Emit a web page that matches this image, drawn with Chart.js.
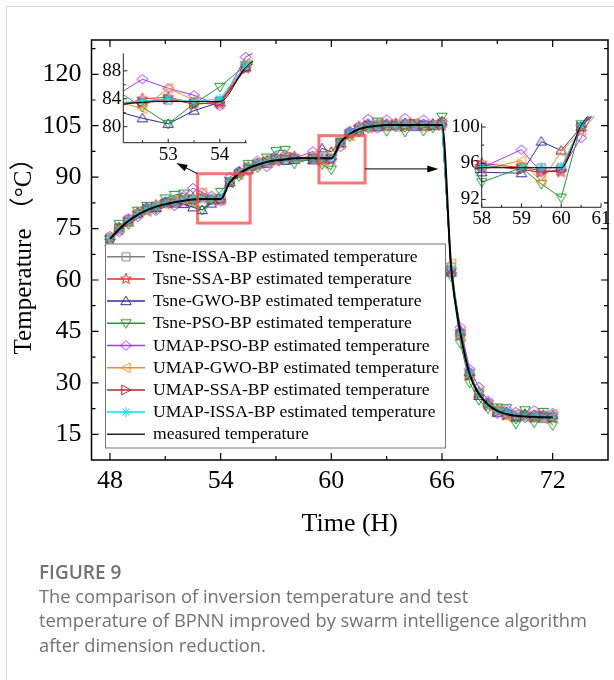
<!DOCTYPE html>
<html>
<head>
<meta charset="utf-8">
<script src="https://cdn.jsdelivr.net/npm/chart.js@4.4.1/dist/chart.umd.min.js"></script>
<style>
  html, body { margin: 0; padding: 0; background: #fff; }
  #page { position: relative; width: 614px; height: 680px; overflow: hidden; }
  #card { position: absolute; left: 6px; top: 6px; width: 700px; height: 700px; border-left: 1px solid #d9d9d9; border-top: 1px solid #d9d9d9; }
  canvas { position: absolute; }
  #main { left: 0; top: 0; }
  #inset1 { left: 60px; top: 40px; }
  #inset2 { left: 420px; top: 110px; }
  #caption { position: absolute; left: 39px; top: 560px; font-family: 'Open Sans', 'Noto Sans', sans-serif; color: #727272; font-size: 18.3px; line-height: 24.2px; }
  #caption .fig { font-weight: 600; font-size: 19px; }
</style>
</head>
<body>
<div id="page">
  <div id="card"></div>
  <canvas id="main" width="614" height="560"></canvas>
  <canvas id="inset1" width="200" height="130"></canvas>
  <canvas id="inset2" width="194" height="125"></canvas>
  <div id="caption"><div class="fig">FIGURE 9</div>The comparison of inversion temperature and test<br>temperature of BPNN improved by swarm intelligence algorithm<br>after dimension reduction.</div>
</div>
<script>
// time axis (hours)
const times = [48, 48.5, 49, 49.5, 50, 50.5, 51, 51.5, 52, 52.5, 53, 53.5, 54, 54.5, 55, 55.5, 56, 56.5, 57, 57.5, 58,
  59, 59.5, 60, 60.5, 61, 61.5, 62, 62.5, 63, 63.5, 64, 64.5, 65, 65.5, 66, 66.5, 67, 67.5, 68, 68.5, 69, 69.5, 70, 70.5, 71, 71.5, 72];

const measured = [72.0, 74.8, 77.2, 79.0, 80.4, 81.4, 82.1, 82.7, 83.1, 83.5, 83.6, 83.6, 83.6, 88.5, 91.0, 92.6, 93.6, 94.4, 94.9, 95.2, 95.5,
  95.5, 95.5, 95.5, 100.2, 102.6, 104.0, 104.7, 105.0, 105.2, 105.2, 105.2, 105.2, 105.2, 105.2, 105.2, 63.5, 44.5, 32.5, 26.8, 23.6, 21.8, 20.9, 20.4, 20.2, 20.1, 20.0, 20.0];

const tsneIssa = [72.3, 75.2, 77.6, 79.3, 80.8, 81.6, 82.5, 82.9, 83.3, 83.5, 83.8, 83.5, 83.7, 88.6, 91.3, 92.4, 93.9, 94.6, 95.2, 95.0, 95.5,
  95.6, 95.5, 95.5, 100.0, 102.9, 104.3, 104.9, 105.3, 105.0, 105.5, 105.1, 105.4, 105.0, 105.3, 105.5, 63.8, 44.2, 32.8, 27.0, 23.9, 22.0, 21.0, 20.7, 20.4, 20.3, 20.2, 20.1];
const tsneSsa = [71.6, 74.5, 77.5, 79.5, 80.1, 81.8, 82.4, 83.0, 82.8, 84.0, 84.2, 83.4, 83.2, 88.3, 90.7, 92.9, 93.4, 94.8, 94.6, 95.6, 96.0,
  95.5, 95.2, 95.0, 100.0, 102.3, 104.4, 104.5, 105.4, 104.9, 105.6, 105.0, 105.3, 104.8, 105.5, 105.0, 63.0, 44.9, 32.0, 27.3, 23.2, 22.3, 20.5, 20.0, 20.6, 19.8, 20.5, 19.7];
const tsneGwo = [71.0, 75.4, 76.8, 79.6, 80.9, 81.0, 82.6, 82.3, 82.2, 81.2, 80.4, 82.3, 83.5, 88.5, 91.5, 92.2, 94.1, 93.9, 95.4, 94.8, 95.0,
  94.9, 98.4, 97.4, 100.0, 103.1, 103.6, 105.3, 104.6, 105.6, 105.0, 105.8, 104.7, 105.5, 104.9, 106.0, 62.2, 45.2, 33.1, 26.2, 24.2, 21.3, 21.5, 19.9, 21.0, 20.7, 19.6, 20.6];
const tsnePso = [70.8, 76.3, 76.2, 80.2, 81.6, 80.7, 83.8, 84.8, 85.2, 82.8, 80.4, 83.3, 85.7, 88.8, 90.2, 93.8, 92.8, 95.7, 97.6, 97.9, 93.9,
  95.5, 93.7, 92.2, 100.3, 101.8, 103.2, 104.2, 106.2, 103.4, 104.9, 103.2, 105.7, 103.5, 104.4, 107.6, 61.0, 41.5, 30.0, 25.0, 22.5, 22.8, 22.6, 18.0, 22.0, 18.4, 21.5, 17.6];
const umapPso = [72.8, 74.0, 78.0, 78.4, 81.2, 80.2, 82.9, 81.6, 84.5, 86.8, 85.5, 84.5, 83.0, 90.0, 91.8, 91.9, 94.8, 93.0, 95.8, 96.5, 95.5,
  97.5, 95.0, 95.3, 98.8, 103.5, 105.0, 107.0, 104.2, 106.8, 104.6, 107.2, 105.0, 106.8, 105.5, 106.4, 62.0, 46.2, 34.0, 28.8, 24.8, 21.0, 22.3, 21.5, 19.8, 22.0, 20.7, 21.2];
const umapGwo = [72.5, 75.0, 76.9, 79.8, 80.0, 81.9, 82.0, 83.2, 83.6, 82.6, 85.5, 83.8, 83.3, 89.0, 91.2, 92.0, 94.2, 94.0, 95.3, 95.9, 95.3,
  96.3, 94.0, 97.3, 99.5, 102.0, 104.6, 104.3, 105.7, 105.3, 104.7, 105.4, 105.8, 104.8, 105.2, 105.8, 64.8, 43.8, 31.8, 27.5, 23.4, 22.0, 20.2, 21.0, 20.0, 20.8, 19.5, 20.9];
const umapSsa = [71.8, 75.1, 77.0, 78.7, 80.6, 81.2, 82.2, 82.5, 83.4, 83.5, 84.0, 83.2, 83.5, 88.3, 90.9, 92.8, 93.3, 94.3, 95.1, 95.4, 95.8,
  95.3, 95.0, 95.2, 100.0, 102.5, 103.8, 105.0, 104.8, 105.4, 105.1, 104.8, 105.6, 105.2, 104.9, 105.4, 62.8, 44.0, 32.3, 26.5, 23.8, 21.5, 20.7, 20.2, 20.5, 20.0, 20.3, 19.9];
const umapIssa = [72.2, 74.6, 77.4, 79.2, 80.5, 81.7, 82.3, 82.8, 83.4, 83.7, 84.0, 83.6, 84.0, 88.8, 91.1, 92.7, 93.7, 94.5, 95.0, 95.3, 95.6,
  95.5, 95.5, 95.6, 100.2, 102.8, 104.2, 104.8, 105.1, 105.3, 105.0, 105.4, 105.1, 105.3, 105.2, 105.1, 63.6, 44.3, 32.6, 27.1, 23.5, 21.9, 21.1, 20.6, 20.3, 20.4, 20.1, 20.2];

const names = ['Tsne-ISSA-BP estimated temperature', 'Tsne-SSA-BP estimated temperature', 'Tsne-GWO-BP estimated temperature',
  'Tsne-PSO-BP estimated temperature', 'UMAP-PSO-BP estimated temperature', 'UMAP-GWO-BP estimated temperature',
  'UMAP-SSA-BP estimated temperature', 'UMAP-ISSA-BP estimated temperature'];
const measuredName = 'measured temperature';
const estimates = [tsneIssa, tsneSsa, tsneGwo, tsnePso, umapPso, umapGwo, umapSsa, umapIssa];

// ticks
const xMajor = [48, 54, 60, 66, 72];
const xMinor = [51, 57, 63, 69];
const yMajor = [15, 30, 45, 60, 75, 90, 105, 120];
const yMinor = [22.5, 37.5, 52.5, 67.5, 82.5, 97.5, 112.5, 127.5];
const inset1X = [53, 54];
const inset1XMinor = [52.5, 53.5, 54.5];
const inset1Y = [80, 84, 88];
const inset1YMinor = [82, 86];
const inset2X = [58, 59, 60, 61];
const inset2XMinor = [58.5, 59.5, 60.5];
const inset2Y = [92, 96, 100];
const inset2YMinor = [94, 98];

// zoom boxes [x0, x1, y0, y1] and arrows [fromX, fromY, toX, toY] in data units
const zoomBoxes = [[52.75, 55.6, 76.6, 91.0], [59.33, 61.83, 88.3, 102.1]];
const arrows = [[52.75, 91.0, 51.6, 94.1], [61.83, 92.4, 65.8, 92.4]];

const colors = ['#808080', '#ff2424', '#2e2e9c', '#1f9a30', '#9b3cff', '#ff8a20', '#a82a2a', '#00e6f5'];
const markerKinds = ['square', 'star', 'triUp', 'triDown', 'diamond', 'triLeft', 'triRight', 'asterisk'];

Chart.defaults.font.family = "'Liberation Serif', 'Times New Roman', serif";
Chart.defaults.color = '#000';

function makeMarker(kind, color) {
  const c = document.createElement('canvas');
  c.width = 14; c.height = 14;
  const g = c.getContext('2d');
  g.strokeStyle = color;
  g.lineWidth = 1;
  g.translate(7, 7);
  g.beginPath();
  if (kind === 'square') {
    g.rect(-4, -4, 8, 8);
  } else if (kind === 'triUp') {
    g.moveTo(0, -5); g.lineTo(5.2, 3.6); g.lineTo(-5.2, 3.6); g.closePath();
  } else if (kind === 'triDown') {
    g.moveTo(0, 5); g.lineTo(5.2, -3.6); g.lineTo(-5.2, -3.6); g.closePath();
  } else if (kind === 'triLeft') {
    g.moveTo(-5, 0); g.lineTo(4.2, -4.8); g.lineTo(4.2, 4.8); g.closePath();
  } else if (kind === 'triRight') {
    g.moveTo(5, 0); g.lineTo(-4.2, -4.8); g.lineTo(-4.2, 4.8); g.closePath();
  } else if (kind === 'diamond') {
    g.moveTo(0, -4.6); g.lineTo(5.6, 0); g.lineTo(0, 4.6); g.lineTo(-5.6, 0); g.closePath();
  } else if (kind === 'star') {
    for (let k = 0; k < 10; k++) {
      const r = k % 2 === 0 ? 5.6 : 2.4;
      const a = -Math.PI / 2 + k * Math.PI / 5;
      if (k === 0) g.moveTo(r * Math.cos(a), r * Math.sin(a));
      else g.lineTo(r * Math.cos(a), r * Math.sin(a));
    }
    g.closePath();
  } else if (kind === 'asterisk') {
    for (let k = 0; k < 4; k++) {
      const a = k * Math.PI / 4;
      g.moveTo(-5 * Math.cos(a), -5 * Math.sin(a));
      g.lineTo(5 * Math.cos(a), 5 * Math.sin(a));
    }
  }
  g.stroke();
  return c;
}

const markerImgs = markerKinds.map((k, i) => makeMarker(k, colors[i]));

function buildDatasets(measuredWidth, clip) {
  const ds = estimates.map((vals, i) => ({
    label: names[i],
    data: times.map((t, k) => ({ x: t, y: vals[k] })),
    borderColor: colors[i],
    borderWidth: 1,
    pointStyle: markerImgs[i],
    pointRadius: 5,
    tension: 0,
    clip: clip,
    order: estimates.length - i
  }));
  ds.push({
    label: measuredName,
    data: times.map((t, k) => ({ x: t, y: measured[k] })),
    borderColor: '#000',
    borderWidth: measuredWidth,
    pointRadius: 0,
    cubicInterpolationMode: 'monotone',
    clip: clip,
    order: 0
  });
  return ds;
}

function tickLines(ctx, scale, vals, len, area, horiz, both) {
  vals.forEach(v => {
    const p = scale.getPixelForValue(v);
    if (horiz) {
      ctx.moveTo(p, area.bottom); ctx.lineTo(p, area.bottom - len);
      if (both) { ctx.moveTo(p, area.top); ctx.lineTo(p, area.top + len); }
    } else {
      ctx.moveTo(area.left, p); ctx.lineTo(area.left + len, p);
      if (both) { ctx.moveTo(area.right, p); ctx.lineTo(area.right - len, p); }
    }
  });
}

const mainFrame = {
  id: 'mainFrame',
  afterDatasetsDraw(chart) {
    const { ctx, scales: { x, y } } = chart;
    ctx.save();
    ctx.strokeStyle = 'rgba(255, 70, 70, 0.75)';
    ctx.lineWidth = 3;
    zoomBoxes.forEach(b => {
      const x0 = x.getPixelForValue(b[0]), x1 = x.getPixelForValue(b[1]);
      const y0 = y.getPixelForValue(b[2]), y1 = y.getPixelForValue(b[3]);
      ctx.strokeRect(x0, y1, x1 - x0, y0 - y1);
    });
    ctx.strokeStyle = '#000';
    ctx.fillStyle = '#000';
    ctx.lineWidth = 1;
    arrows.forEach(a => {
      const fx = x.getPixelForValue(a[0]), fy = y.getPixelForValue(a[1]);
      const tx = x.getPixelForValue(a[2]), ty = y.getPixelForValue(a[3]);
      const ang = Math.atan2(ty - fy, tx - fx);
      ctx.beginPath();
      ctx.moveTo(fx, fy);
      ctx.lineTo(tx - 9 * Math.cos(ang), ty - 9 * Math.sin(ang));
      ctx.stroke();
      ctx.beginPath();
      ctx.moveTo(tx, ty);
      ctx.lineTo(tx - 11 * Math.cos(ang) + 3.5 * Math.sin(ang), ty - 11 * Math.sin(ang) - 3.5 * Math.cos(ang));
      ctx.lineTo(tx - 11 * Math.cos(ang) - 3.5 * Math.sin(ang), ty - 11 * Math.sin(ang) + 3.5 * Math.cos(ang));
      ctx.closePath();
      ctx.fill();
    });
    ctx.restore();
  },
  afterDraw(chart) {
    const { ctx, chartArea: a, scales: { x, y } } = chart;
    ctx.save();
    ctx.strokeStyle = '#000';
    ctx.lineWidth = 1.5;
    ctx.strokeRect(a.left, a.top, a.right - a.left, a.bottom - a.top);
    ctx.lineWidth = 1.2;
    ctx.beginPath();
    tickLines(ctx, x, xMajor, 7, a, true, true);
    tickLines(ctx, x, xMinor, 4, a, true, true);
    tickLines(ctx, y, yMajor, 7, a, false, true);
    tickLines(ctx, y, yMinor, 4, a, false, true);
    ctx.stroke();

    // legend box
    const left = a.left + 13.5, top = 243.5, w = 340, h = 204, rowGap = 22.2;
    ctx.fillStyle = '#fff';
    ctx.fillRect(left, top, w, h);
    ctx.strokeStyle = '#777';
    ctx.lineWidth = 1;
    ctx.strokeRect(left + 0.5, top + 0.5, w, h);
    ctx.font = "17.6px 'Liberation Serif'";
    ctx.textBaseline = 'middle';
    ctx.textAlign = 'left';
    const rows = names.concat([measuredName]);
    rows.forEach((name, i) => {
      const cy = top + 13.2 + i * rowGap;
      ctx.beginPath();
      ctx.strokeStyle = i < names.length ? colors[i] : '#222';
      ctx.lineWidth = 1.5;
      ctx.moveTo(left + 2, cy);
      ctx.lineTo(left + 40, cy);
      ctx.stroke();
      if (i < names.length) ctx.drawImage(markerImgs[i], left + 21 - 7, cy - 7);
      ctx.fillStyle = '#000';
      ctx.fillText(name, left + 48, cy + 0.5);
    });
    ctx.restore();
  }
};

new Chart(document.getElementById('main'), {
  type: 'line',
  data: { datasets: buildDatasets(2, 0) },
  options: {
    responsive: false,
    animation: false,
    events: [],
    layout: { padding: { left: 0, right: 2, top: 40, bottom: 0 } },
    plugins: { legend: { display: false }, tooltip: { enabled: false } },
    scales: {
      x: {
        type: 'linear', min: 47, max: 75,
        grid: { display: false, drawTicks: false },
        border: { display: false },
        afterBuildTicks: s => { s.ticks = xMajor.map(v => ({ value: v })); },
        afterFit: s => { s.height = 100; },
        ticks: { font: { size: 26 }, padding: 6, color: '#000', maxRotation: 0, autoSkip: false },
        title: { display: true, text: 'Time (H)', font: { size: 26 }, color: '#000', padding: { top: 0, bottom: 20 } }
      },
      y: {
        type: 'linear', min: 7.5, max: 130,
        grid: { display: false, drawTicks: false },
        border: { display: false },
        afterBuildTicks: s => { s.ticks = yMajor.map(v => ({ value: v })); },
        afterFit: s => { s.width = 91.5; },
        ticks: { font: { size: 26 }, padding: 10, color: '#000', autoSkip: false },
        title: {
          display: true, text: 'Temperature （°C）', color: '#000',
          font: { size: 25, family: "'Liberation Serif', 'Noto Sans CJK SC', serif" },
          padding: { top: 9, bottom: 0 }
        }
      }
    }
  },
  plugins: [mainFrame]
});

function insetAxes(xMaj, xMin, yMaj, yMin) {
  return {
    id: 'insetAxes',
    afterDraw(chart) {
      const { ctx, chartArea: a, scales: { x, y } } = chart;
      ctx.save();
      ctx.strokeStyle = '#222';
      ctx.lineWidth = 1;
      ctx.beginPath();
      ctx.moveTo(a.left, a.top);
      ctx.lineTo(a.left, a.bottom);
      ctx.lineTo(a.right, a.bottom);
      tickLines(ctx, x, xMaj, 4, a, true, false);
      tickLines(ctx, x, xMin, 2.5, a, true, false);
      tickLines(ctx, y, yMaj, 4, a, false, false);
      tickLines(ctx, y, yMin, 2.5, a, false, false);
      ctx.stroke();
      ctx.restore();
    }
  };
}

function makeInset(id, xr, yr, xTicks, yTicks, xMin, yMin, pad, yWidth, xHeight, xPad, clip) {
  return new Chart(document.getElementById(id), {
    type: 'line',
    data: { datasets: buildDatasets(1, clip) },
    options: {
      responsive: false,
      animation: false,
      events: [],
      layout: { padding: pad },
      plugins: { legend: { display: false }, tooltip: { enabled: false } },
      scales: {
        x: {
          type: 'linear', min: xr[0], max: xr[1],
          grid: { display: false, drawTicks: false },
          border: { display: false },
          afterBuildTicks: s => { s.ticks = xTicks.map(v => ({ value: v })); },
          afterFit: s => { s.height = xHeight; },
          ticks: { font: { size: 19 }, padding: xPad, color: '#000', maxRotation: 0, autoSkip: false }
        },
        y: {
          type: 'linear', min: yr[0], max: yr[1],
          grid: { display: false, drawTicks: false },
          border: { display: false },
          afterBuildTicks: s => { s.ticks = yTicks.map(v => ({ value: v })); },
          afterFit: s => { s.width = yWidth; },
          ticks: { font: { size: 19 }, padding: 2, color: '#000', autoSkip: false }
        }
      }
    },
    plugins: [insetAxes(xTicks, xMin, yTicks, yMin)]
  });
}

makeInset('inset1', [52.13, 54.52], [77.7, 90.5], inset1X, inset1Y, inset1XMinor, inset1YMinor,
  { left: 0, top: 11.7, right: 13.3, bottom: 0 }, 63.3, 27.3, 1, { left: 0, top: 6, right: 6, bottom: 0 });
makeInset('inset2', [58, 61], [91.13, 100.4], inset2X, inset2Y, inset2XMinor, inset2YMinor,
  { left: 0, top: 12.5, right: 13, bottom: 0 }, 61.7, 27.7, 0, { left: 7, top: 7, right: 0, bottom: 0 });
</script>
</body>
</html>
